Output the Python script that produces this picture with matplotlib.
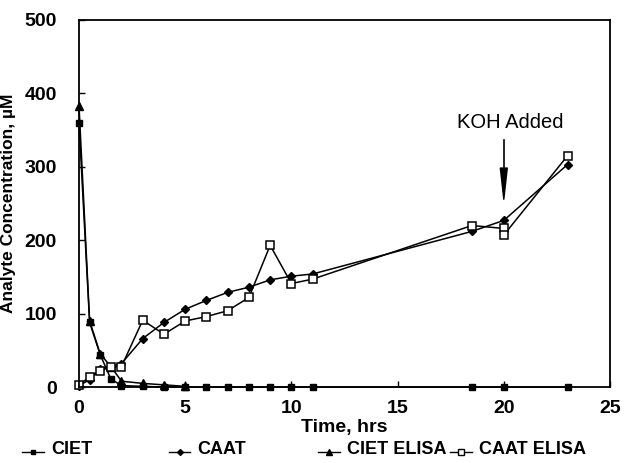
import matplotlib.pyplot as plt
from matplotlib.lines import Line2D
from matplotlib.legend_handler import HandlerLine2D

plt.rcParams['font.family'] = ['Liberation Sans', 'DejaVu Sans']
plt.rcParams['font.weight'] = 'bold'

# CIET (filled squares)
ciet_t = [0, 0.5, 1, 1.5, 2, 3, 4, 5, 6, 7, 8, 9, 10, 11, 18.5, 20, 23]
ciet_v = [360, 88, 44, 11, 2, 1, 0, 0, 0, 0, 0, 0, 0, 0, 0, 0, 0]

# CAAT (filled diamonds)
caat_t = [0, 0.5, 1, 1.5, 2, 3, 4, 5, 6, 7, 8, 9, 10, 11, 18.5, 20, 23]
caat_v = [2, 10, 25, 28, 32, 66, 88, 106, 118, 129, 136, 146, 151, 154, 212, 227, 303]

# CIET ELISA (filled triangles)
cielisa_t = [0, 0.5, 1, 1.5, 2, 3, 4, 5]
cielisa_v = [383, 90, 45, 28, 8, 5, 3, 1]

# CAAT ELISA (open squares)
caelisa_t = [0, 0.5, 1, 1.5, 2, 3, 4, 5, 6, 7, 8, 9, 10, 11, 18.5, 20, 20, 23]
caelisa_v = [3, 14, 22, 28, 28, 91, 72, 90, 96, 104, 122, 193, 141, 147, 220, 216, 207, 315]


class LowLine(HandlerLine2D):
    # legend handles sit on the text baseline in the original
    def create_artists(self, legend, orig_handle, xdescent, ydescent, width, height, fontsize, trans):
        arts = super().create_artists(legend, orig_handle, xdescent, ydescent, width, height, fontsize, trans)
        for a in arts:
            a.set_ydata([y - height * 0.4 for y in a.get_ydata()])
        return arts


fig = plt.figure(figsize=(6.25, 4.63), dpi=100)
ax = fig.add_axes([0.1264, 0.164, 0.8496, 0.793])

lw = 1.1
ax.plot(ciet_t, ciet_v, color='black', lw=lw, marker='s', ms=5, mfc='black', clip_on=False)
ax.plot(caat_t, caat_v, color='black', lw=lw, marker='D', ms=4.5, mfc='black', clip_on=False)
ax.plot(cielisa_t, cielisa_v, color='black', lw=lw, marker='^', ms=5.5, mfc='black', clip_on=False)
ax.plot(caelisa_t, caelisa_v, color='black', lw=lw, marker='s', ms=6, mfc='white', mew=1.1, clip_on=False)

ax.set_xlim(0, 25)
ax.set_ylim(0, 500)
ax.set_xticks([0, 5, 10, 15, 20, 25])
ax.set_yticks([0, 100, 200, 300, 400, 500])
ax.tick_params(direction='in', labelsize=14, length=4, width=1)
ax.tick_params(axis='y', pad=16)
ax.tick_params(axis='x', pad=9)
for s in ax.spines.values():
    s.set_linewidth(1.3)

ax.set_xlabel('Time, hrs', fontsize=14, fontweight='bold', labelpad=2)
ax.set_ylabel('Analyte Concentration, µM', fontsize=12.5, fontweight='bold', labelpad=6)

# KOH arrow: thin shaft, then a long tapered head
ax.plot([20, 20], [300, 337], color='black', lw=1.2)
ax.annotate('', xy=(20, 252), xytext=(20, 302),
            arrowprops=dict(arrowstyle='wedge,tail_width=0.5,shrink_factor=0.5', color='black', lw=1))
ax.text(20.3, 360, 'KOH Added', ha='center', va='center', fontsize=14.5, fontweight='normal')

handles = [
    Line2D([], [], color='black', lw=1, marker='s', ms=3.5),
    Line2D([], [], color='black', lw=1, marker='D', ms=3),
    Line2D([], [], color='black', lw=1, marker='^', ms=4),
    Line2D([], [], color='black', lw=1, marker='s', ms=4, mfc='white'),
]
labels = ['CIET', 'CAAT', 'CIET ELISA', 'CAAT ELISA']
xpos = [0.035, 0.27, 0.509, 0.72]
for h, l, x in zip(handles, labels, xpos):
    fig.legend([h], [l], loc='center left', bbox_to_anchor=(x, 0.03), frameon=False,
               fontsize=13, handlelength=1.2, handletextpad=0.4, borderaxespad=0,
               borderpad=0, handler_map={Line2D: LowLine()})

fig.savefig('out.png', dpi=100)
